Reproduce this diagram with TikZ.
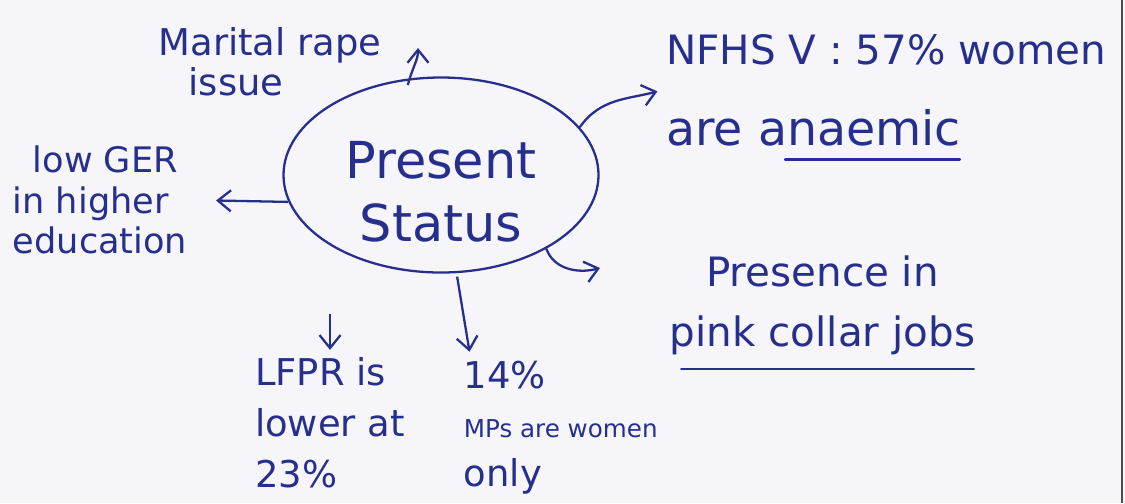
\documentclass[tikz,border=0pt]{standalone}
\usepackage{fontspec}
\setmainfont{DejaVu Sans}
\usepackage{tikz}
\usetikzlibrary{shapes.geometric, arrows.meta, positioning, calc}
\definecolor{cInk}{RGB}{38,48,140}
\definecolor{cPaper}{RGB}{245,245,250}
\tikzset{
	hub/.style ={ellipse, draw=cInk, line width=1.3pt, minimum width=6.3cm, minimum height=3.9cm, align=center, text=cInk, font=\fontsize{29}{36}\selectfont},
	note/.style={text=cInk, align=left, inner sep=2pt, font=\fontsize{21}{28}\selectfont},
	pen/.style ={-{Straight Barb[length=2.6mm, width=4.2mm]}, line width=1.3pt, cInk},
	rule/.style={line width=1.3pt, cInk, line cap=round},
}

\begin{document}
\begin{tikzpicture}
	\fill[cPaper] (0,0) rectangle (22.5,-10.06);
	\useasboundingbox (0,0) rectangle (22.5,-10.06);
	\draw[gray!60!black, line width=0.8pt] (22.44,0) -- (22.44,-10.06);
	% centre and notes round it
	\node[hub] (status) at (8.82,-3.5) {\raisebox{-0.66cm}[0pt][0pt]{\begin{tabular}{@{}c@{}}Present\\Status\end{tabular}}};
	\node[note, font=\fontsize{21}{23}\selectfont] (marital) at (5.4,-1.24) {Marital rape\\\hspace*{0.6cm}issue};
	\node[note, anchor=west, font=\fontsize{23}{28}\selectfont] (nfhs) at (13.25,-1.8) {NFHS V : 57\% women\\[18pt]{\fontsize{27}{28}\selectfont are anaemic}};
	\draw[rule, shorten <=2.45cm, shorten >=3cm] ($(nfhs.south west)+(0,-0.2)$) -- ($(nfhs.south east)+(0,-0.2)$);
	\node[note, font=\fontsize{20}{23}\selectfont] (gerr) at (2.0,-4.0) {\hspace*{0.4cm}low GER\\in higher\\education};
	\node[note, font=\fontsize{21}{29}\selectfont] (lfpr) at (6.6,-8.45) {LFPR is\\lower at\\23\%};
	\node[note, anchor=west] (mps) at (9.2,-8.55) {14\%\\{\fontsize{14}{17}\selectfont MPs are women}\\only};
	\node[note, align=center, font=\fontsize{23}{34}\selectfont] (pink) at (16.45,-6.1) {Presence in\\pink collar jobs};
	\draw[rule, shorten <=0.3cm, shorten >=0.1cm] ($(pink.south west)+(0,-0.22)$) -- ($(pink.south east)+(0,-0.22)$);
	\coordinate (mrtip) at (8.36,-0.96);
	\coordinate (pktip) at (12.0,-5.36);
	% arrows
	\draw[pen, shorten <=-4pt] (status.108) to[out=75, in=-90] (mrtip);
	\draw[pen, shorten >=3pt] (status.19) to[out=55, in=195] (nfhs.west);
	\draw[pen, shorten >=0.5cm] (status.190) -- (gerr.east);
	\draw[pen, shorten <=0.8cm, shorten >=2pt] (status.south -| lfpr.north) -- (lfpr.north);
	\draw[pen, shorten <=2pt, shorten >=3pt] (status.-81) -- (mps.142);
	\draw[pen] (status.-35) to[out=-70, in=195] (pktip);
\end{tikzpicture}
\end{document}
